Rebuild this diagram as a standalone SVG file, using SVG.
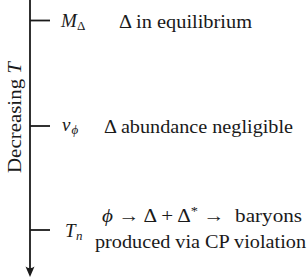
<svg xmlns="http://www.w3.org/2000/svg" width="307" height="278" viewBox="0 0 307 278">
<style>
text{font-family:'Liberation Serif','Times New Roman',serif;fill:#1a1a1a;font-size:19px}
.it{font-style:italic}
.sub{font-size:13px}
.ax{stroke:#1a1a1a;stroke-width:1.8;fill:none}
</style>
<rect width="307" height="278" fill="#fff"/>
<g id="connectors">
<line class="ax" x1="30" y1="0" x2="30" y2="270"/>
<path d="M30,277 L25.5,266.5 Q30,270 34.5,266.5 Z" fill="#1a1a1a"/>
</g>
<g id="axis-label">
<text transform="translate(21,117.5) rotate(-90)" text-anchor="middle" textLength="111" lengthAdjust="spacingAndGlyphs">Decreasing <tspan class="it">T</tspan></text>
</g>
<g id="node-mdelta">
<line class="ax" x1="30" y1="20.5" x2="50" y2="20.5"/>
<text x="61" y="26.5" class="it">M</text>
<text x="77" y="30" class="sub">Δ</text>
<text x="119" y="27.5" textLength="133" lengthAdjust="spacingAndGlyphs">Δ in equilibrium</text>
</g>
<g id="node-vphi">
<line class="ax" x1="30" y1="126" x2="50" y2="126"/>
<text x="62" y="131" class="it">v</text>
<text x="71.5" y="134" class="it sub">ϕ</text>
<text x="104" y="133" textLength="189" lengthAdjust="spacingAndGlyphs">Δ abundance negligible</text>
</g>
<g id="node-tn">
<line class="ax" x1="30" y1="230" x2="50" y2="230"/>
<text x="65" y="237" class="it">T</text>
<text x="76" y="240" class="it sub">n</text>
<text x="102" y="222" textLength="200" lengthAdjust="spacingAndGlyphs" xml:space="preserve"><tspan class="it">ϕ</tspan> → Δ + Δ<tspan dy="-7" font-size="13">*</tspan><tspan dy="7"> →  baryons</tspan></text>
<text x="95" y="248" textLength="211" lengthAdjust="spacingAndGlyphs">produced via CP violation</text>
</g>
</svg>
